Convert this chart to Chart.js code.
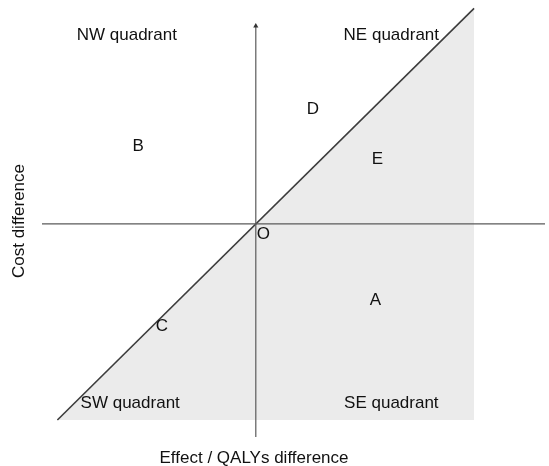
<!DOCTYPE html>
<html>
<head>
<meta charset="utf-8">
<script src="https://cdn.jsdelivr.net/npm/chart.js@4.4.1/dist/chart.umd.min.js"></script>
<style>
html, body { margin: 0; padding: 0; background: #fff; overflow: hidden; }
canvas { display: block; }
</style>
</head>
<body>
<canvas id="plane" width="549" height="466"></canvas>
<script>
// scenarios placed on the cost-effectiveness plane
const pointNames = ['A', 'B', 'C', 'D', 'E', 'O'];
const pointX = [6.03, -5.93, -4.73, 2.88, 6.13, 0.38];
const pointY = [-3.88, 3.98, -5.2, 5.87, 3.32, -0.51];

// quadrant captions
const quadNames = ['NW quadrant', 'NE quadrant', 'SW quadrant', 'SE quadrant'];
const quadX = [-6.5, 6.83, -6.33, 6.83];
const quadY = [9.64, 9.64, -9.13, -9.13];

// threshold line (cost per QALY), shaded below/right of it
const diagX = [-10, 11];
const diagY = [-10, 11];

// axis extents
const xRange = [-10.775, 14.575];
const yRange = [-10.87, 11.17];
const costAxisTop = 10.1;

const FONT = '17px "Liberation Sans", Arial, sans-serif';

const planeText = {
  id: 'planeText',
  afterDatasetsDraw(chart) {
    const { ctx, chartArea, scales: { x, y } } = chart;
    ctx.save();
    ctx.font = FONT;
    ctx.fillStyle = '#111';
    ctx.textAlign = 'center';
    ctx.textBaseline = 'middle';

    const meta = chart.getDatasetMeta(3);
    meta.data.forEach((pt, i) => ctx.fillText(pointNames[i], pt.x, pt.y));

    quadNames.forEach((t, i) => {
      ctx.fillText(t, x.getPixelForValue(quadX[i]), y.getPixelForValue(quadY[i]));
    });

    ctx.fillText('Effect / QALYs difference', 254, chartArea.bottom + 21);
    ctx.translate(19.5, 221);
    ctx.rotate(-Math.PI / 2);
    ctx.fillText('Cost difference', 0, 0);
    ctx.restore();
  }
};

const toXY = (xs, ys) => xs.map((v, i) => ({ x: v, y: ys[i] }));

new Chart(document.getElementById('plane'), {
  type: 'scatter',
  data: {
    datasets: [
      {
        // effect axis
        data: [{ x: xRange[0], y: 0 }, { x: xRange[1], y: 0 }],
        showLine: true,
        borderColor: '#5a5a5a',
        borderWidth: 1.3,
        pointRadius: 0,
        clip: false
      },
      {
        // cost axis with arrow head
        data: [{ x: 0, y: yRange[0] }, { x: 0, y: costAxisTop }],
        showLine: true,
        borderColor: '#5a5a5a',
        borderWidth: 1.2,
        pointStyle: 'triangle',
        pointRadius: [0, 3],
        pointBackgroundColor: '#333',
        pointBorderColor: '#333',
        pointBorderWidth: 0,
        clip: false
      },
      {
        // threshold line, area under it shaded
        data: toXY(diagX, diagY),
        showLine: true,
        borderColor: '#3c3c3c',
        borderWidth: 1.6,
        backgroundColor: '#ebebeb',
        fill: { value: diagY[0] },
        pointRadius: 0,
        clip: false
      },
      {
        data: toXY(pointX, pointY),
        pointRadius: 0,
        clip: false
      }
    ]
  },
  options: {
    responsive: false,
    animation: false,
    layout: { padding: { left: 42, top: 5, right: 0, bottom: 29 } },
    plugins: {
      legend: { display: false },
      tooltip: { enabled: false }
    },
    scales: {
      x: { type: 'linear', min: xRange[0], max: xRange[1], display: false },
      y: { type: 'linear', min: yRange[0], max: yRange[1], display: false }
    }
  },
  plugins: [planeText]
});
</script>
</body>
</html>
